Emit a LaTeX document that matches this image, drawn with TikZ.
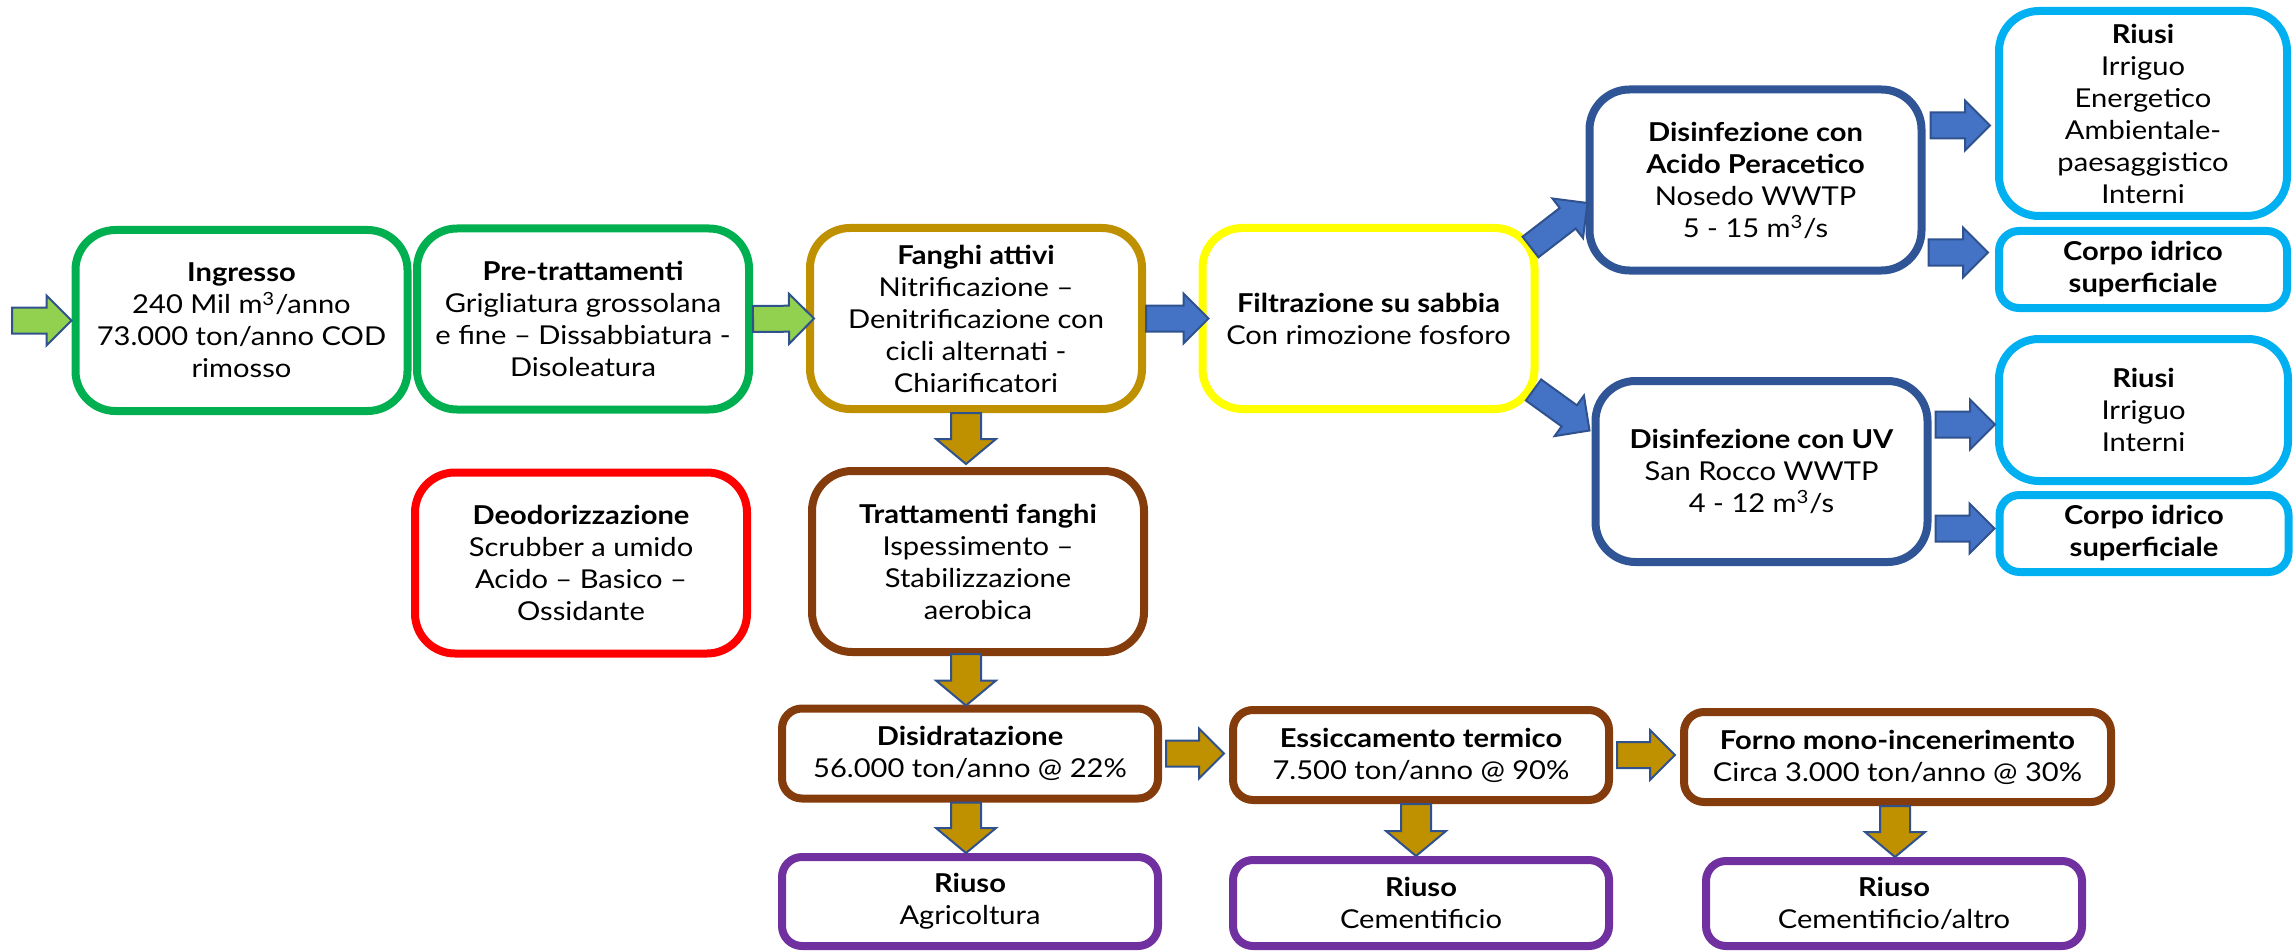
\documentclass[tikz,border=0pt]{standalone}
\usepackage{fontspec}
\setmainfont{Lato}[FakeStretch=1.12]
\usetikzlibrary{calc}

\definecolor{verde}{HTML}{00B050}
\definecolor{verdechiaro}{HTML}{92D050}
\definecolor{oro}{HTML}{BF9000}
\definecolor{giallo}{HTML}{FFFF00}
\definecolor{blu}{HTML}{2F5597}
\definecolor{bluchiaro}{HTML}{4472C4}
\definecolor{bordofreccia}{HTML}{2F528F}
\definecolor{azzurro}{HTML}{00B0F0}
\definecolor{rosso}{HTML}{FF0000}
\definecolor{marrone}{HTML}{843C0C}
\definecolor{viola}{HTML}{7030A0}

\newcommand{\fsh}{6.5pt}
\newcommand{\fpw}{12.5pt}
\newcommand{\fpl}{12.5pt}

\begin{document}
\begin{tikzpicture}[x=0.5pt,y=-0.5pt,line join=miter,
	blocco/.style={draw,line width=4pt,rounded corners=20pt,fill=white,align=center,inner sep=0pt,
		minimum width=166pt,minimum height=90.5pt,font=\fontsize{13}{16}\selectfont},
	basso/.style={rounded corners=10pt,minimum width=188pt,minimum height=45pt},
	freccia/.style={draw=bordofreccia,line width=1pt,
		to path={
			($(\tikztotarget)!\fpl!(\tikztostart)$) coordinate (fr-p)
			($(\tikztostart)!\fsh!90:(\tikztotarget)$)
			-- ($(fr-p)!\fsh!90:(\tikztotarget)$)
			-- ($(fr-p)!\fpw!90:(\tikztotarget)$)
			-- (\tikztotarget)
			-- ($(fr-p)!\fpw!-90:(\tikztotarget)$)
			-- ($(fr-p)!\fsh!-90:(\tikztotarget)$)
			-- ($(\tikztostart)!\fsh!-90:(\tikztotarget)$)
			-- cycle}},
	fverde/.style={freccia,fill=verdechiaro},
	fblu/.style={freccia,fill=bluchiaro},
	foro/.style={freccia,fill=oro},
	fgiu/.style={freccia,fill=oro,/utils/exec={\def\fsh{7.5pt}\def\fpw{15pt}}}]
	\useasboundingbox (0,0) rectangle (2295,952);
	
	% Linea acque
	\node[blocco,draw=verde] (ingr) at (241.5,320.5) {\textbf{Ingresso}\\240 Mil m\textsuperscript{3}/anno\\73.000 ton/anno COD\\rimosso};
	\node[blocco,draw=verde] (pre) at (583,319) {\textbf{Pre-trattamenti}\\Grigliatura grossolana\\e fine – Dissabbiatura -\\Disoleatura};
	\node[blocco,draw=oro] (fang) at (976,318.5) {\textbf{Fanghi attivi}\\Nitrificazione –\\Denitrificazione con\\cicli alternati -\\Chiarificatori};
	\node[blocco,draw=giallo] (filt) at (1368.5,318.5) {\textbf{Filtrazione su sabbia}\\Con rimozione fosforo};
	
	% Disinfezione e riusi
	\node[blocco,draw=blu] (acid) at (1755.5,180) {\textbf{Disinfezione con}\\\textbf{Acido Peracetico}\\Nosedo WWTP\\5 - 15 m\textsuperscript{3}/s};
	\node[blocco,draw=blu] (uv) at (1761.5,471.5) {\textbf{Disinfezione con UV}\\San Rocco WWTP\\4 - 12 m\textsuperscript{3}/s};
	\node[blocco,draw=azzurro,minimum width=144pt,minimum height=102.5pt] (riusiA) at (2143,113.5) {\textbf{Riusi}\\Irriguo\\Energetico\\Ambientale-\\paesaggistico\\Interni};
	\node[blocco,basso,draw=azzurro,minimum width=144pt,minimum height=38.5pt] (corpoA) at (2143,269.5) {\textbf{Corpo idrico}\\\textbf{superficiale}};
	\node[blocco,draw=azzurro,minimum width=144.5pt,minimum height=71pt] (riusiB) at (2143.5,410) {\textbf{Riusi}\\Irriguo\\Interni};
	\node[blocco,basso,draw=azzurro,minimum width=144.5pt,minimum height=38.5pt] (corpoB) at (2144,533.5) {\textbf{Corpo idrico}\\\textbf{superficiale}};
	
	% Aria e fanghi
	\node[blocco,draw=rosso] (deod) at (581,563) {\textbf{Deodorizzazione}\\Scrubber a umido\\Acido – Basico –\\Ossidante};
	\node[blocco,draw=marrone] (tratt) at (978,561.5) {\textbf{Trattamenti fanghi}\\Ispessimento –\\Stabilizzazione\\aerobica};
	\node[blocco,basso,draw=marrone] (disid) at (970,753.5) {\textbf{Disidratazione}\\56.000 ton/anno @ 22\%};
	\node[blocco,basso,draw=marrone] (essic) at (1421,755) {\textbf{Essiccamento termico}\\7.500 ton/anno @ 90\%};
	\node[blocco,basso,draw=marrone,minimum width=213.5pt] (forno) at (1897.5,757) {\textbf{Forno mono-incenerimento}\\Circa 3.000 ton/anno @ 30\%};
	\node[blocco,basso,draw=viola,minimum height=44.5pt] (riuso1) at (970,901.5) {\textbf{Riuso}\\Agricoltura};
	\node[blocco,basso,draw=viola,minimum height=43pt] (riuso2) at (1421,903) {\textbf{Riuso}\\Cementificio};
	\node[blocco,basso,draw=viola,minimum height=42.5pt] (riuso3) at (1894,903.5) {\textbf{Riuso}\\Cementificio/altro};
	
	% Frecce
	\coordinate (ing) at (12,320.5);
	\draw[fverde] (ing) to (ingr.west);
	\draw[fverde] (pre.east) to ([shift={(8,0)}]fang.west);
	\draw[fblu] (fang.east) to ([shift={(10,0)}]filt.west);
	\draw[fblu] ([shift={(-8,23)}]filt.north east) to ([shift={(2,23)}]acid.west);
	\draw[fblu] ([shift={(-5,-23)}]filt.south east) to ([shift={(-2,-41)}]uv.west);
	\draw[fblu] ([shift={(5,-54.5)}]acid.east) to ([shift={(-5,12)}]riusiA.west);
	\draw[fblu] ([shift={(3,72.5)}]acid.east) to ([shift={(-7,-17)}]corpoA.west);
	\draw[fblu] ([shift={(4,-47)}]uv.east) to ([shift={(0,14.5)}]riusiB.west);
	\draw[fblu] ([shift={(4,57)}]uv.east) to ([shift={(-1,-5)}]corpoB.west);
	\draw[fgiu] ([shift={(-10,0)}]fang.south) to ([shift={(-12,-3)}]tratt.north);
	\draw[fgiu] ([shift={(-12,-2)}]tratt.south) to ([shift={(-4,1)}]disid.north);
	\draw[fgiu] ([shift={(-4,0)}]disid.south) to ([shift={(-4,0)}]riuso1.north);
	\draw[fgiu] ([shift={(-5,0)}]essic.south) to ([shift={(-5,0)}]riuso2.north);
	\draw[fgiu] ([shift={(-2.5,0)}]forno.south) to ([shift={(1,0)}]riuso3.north);
	\draw[foro] ([shift={(4,0)}]disid.east) to ([shift={(-5,-1.5)}]essic.west);
	\draw[foro] ([shift={(4,0)}]essic.east) to ([shift={(-5,-2)}]forno.west);
\end{tikzpicture}
\end{document}
